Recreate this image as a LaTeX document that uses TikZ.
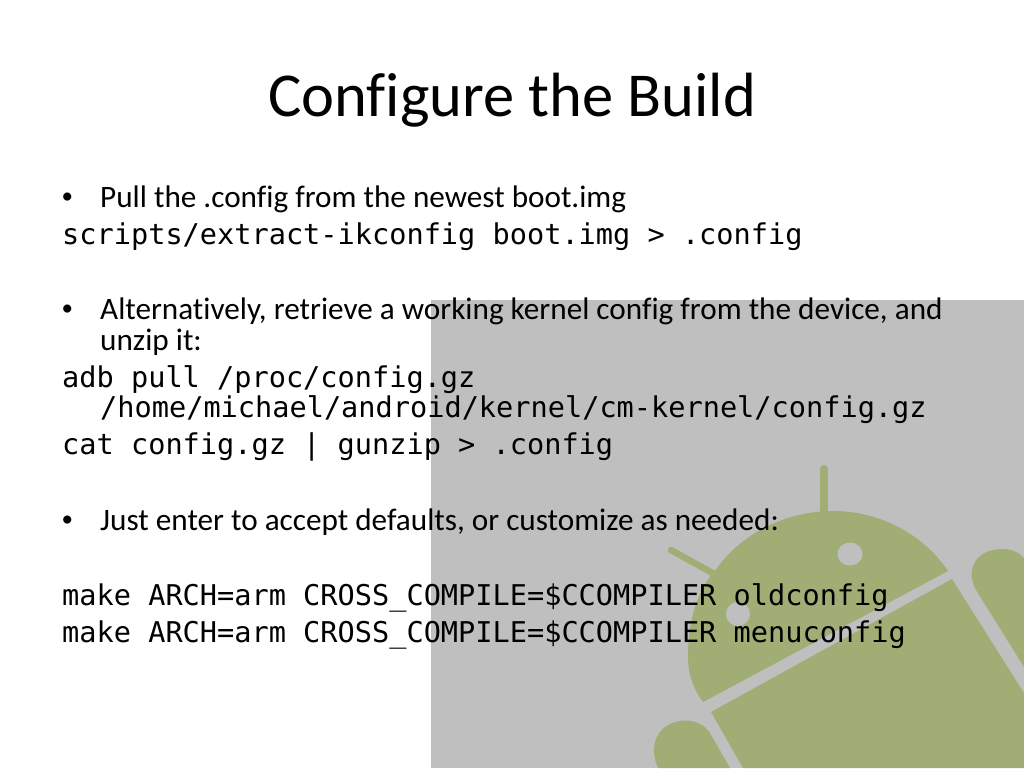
\documentclass[tikz,border=0pt]{standalone}
\usepackage{fontspec}
\setmainfont[Ligatures=NoCommon]{Carlito}
\newfontfamily\codefont{DejaVu Sans Mono}
\definecolor{panelgrey}{HTML}{BFBFBF}
\definecolor{droid}{HTML}{A0AE76}
\tikzset{
 body/.style={anchor=base west,inner sep=0pt,font=\fontsize{31.2pt}{36pt}\selectfont,text=black},
 bulletmark/.style={anchor=base west,inner sep=0pt,font=\fontsize{23pt}{26pt}\selectfont,text=black},
 code/.style={anchor=base west,inner sep=0pt,font=\codefont\fontsize{28.6pt}{34pt}\selectfont,text=black},
}
\begin{document}
\begin{tikzpicture}[x=1pt,y=-1pt]
\useasboundingbox (0,0) rectangle (1024,768);
\fill[white] (0,0) rectangle (1024,768);
\fill[panelgrey] (431,300) rectangle (1024,768);
\begin{scope}
\clip (431,300) rectangle (1024,768);
% antennae
\draw[droid,line width=8pt,line cap=round] (824,469) -- (824,515);
\draw[droid,line width=6.5pt,line cap=round] (671,550) -- (716,575);
% head
\fill[droid] (948,571) .. controls (920,530) and (875,511) .. (833,511) .. controls (790,511) and (745,530) .. (717,568) .. controls (695,592) and (688,625) .. (688,657) .. controls (688,675) and (694,690) .. (703,702) -- cycle;
\fill[panelgrey] (850,554) ellipse [x radius=12.5,y radius=11.5];
\fill[panelgrey] (738,614) circle (12);
% body
\fill[droid] (952,579) -- (1024,693) -- (1024,768) -- (743,768) -- (711,712) -- cycle;
% arms
\fill[droid] (1024,667) -- (976,590) .. controls (965,570) and (975,549) .. (1003,549) .. controls (1012,549) and (1020,553) .. (1024,558) -- cycle;
\fill[droid] (730,768) -- (710,733) .. controls (700,718) and (680,718) .. (668,725) .. controls (654,733) and (650,750) .. (658,768) -- cycle;
\end{scope}
\node[anchor=base,inner sep=0pt,font=\fontsize{62.5pt}{66pt}\selectfont] (title) at (512,116) {Configure the Build};
\node[bulletmark] (b1) at (61.5,203.5) {•};
\node[body] (t1) at (100,207) {Pull the .config from the newest boot.img};
\node[code] (c1) at (62,244) {scripts/extract-ikconfig boot.img > .config};
\node[bulletmark] (b2) at (61.5,315.5) {•};
\node[body] (t2) at (100,319) {Alternatively, retrieve a working kernel config from the device, and};
\node[body] (t2b) at (100,350) {unzip it:};
\node[code] (c2) at (62,387) {adb pull /proc/config.gz};
\node[code] (c3) at (100,417) {/home/michael/android/kernel/cm-kernel/config.gz};
\node[code] (c4) at (62,454) {cat config.gz | gunzip > .config};
\node[bulletmark] (b3) at (61.5,526.5) {•};
\node[body] (t3) at (100,530) {Just enter to accept defaults, or customize as needed:};
\node[code] (c5) at (62,605) {make ARCH=arm CROSS\_COMPILE=\$CCOMPILER oldconfig};
\node[code] (c6) at (62,642) {make ARCH=arm CROSS\_COMPILE=\$CCOMPILER menuconfig};
\end{tikzpicture}
\end{document}
